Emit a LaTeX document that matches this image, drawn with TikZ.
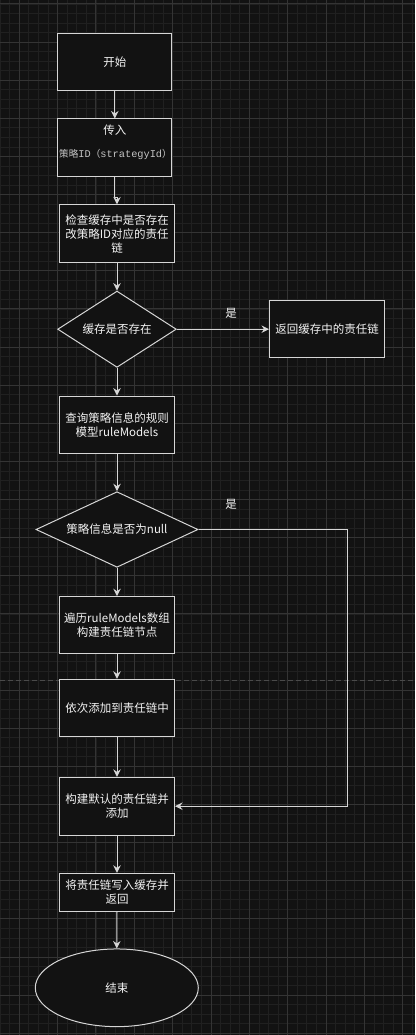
\documentclass[tikz,border=0pt]{standalone}
\usepackage{fontspec}
\setmainfont{Noto Sans CJK SC}
\newfontfamily\monofont{Liberation Mono}
\newfontfamily\cjk{Noto Sans CJK SC}
\usetikzlibrary{shapes.geometric,arrows.meta,calc}
\definecolor{bgc}{HTML}{121212}
\definecolor{minorc}{HTML}{202020}
\definecolor{majorc}{HTML}{343434}
\definecolor{linec}{HTML}{D6D6D6}
\definecolor{txtc}{HTML}{F4F4F4}
\definecolor{monoc}{HTML}{C4C4C4}
\definecolor{pagec}{HTML}{4A4A4A}
\begin{document}
\begin{tikzpicture}[x=1pt,y=-1pt,
  basefont/.style={font=\fontsize{11.5}{13.8}\selectfont},
  box/.style={draw=linec, fill=bgc, line width=1pt, minimum width=115pt,
    minimum height=57.3pt, inner sep=0pt, text=txtc, align=center, basefont},
  decision/.style={diamond, draw=linec, fill=bgc, line width=1pt, inner sep=0pt,
    text=txtc, align=center, basefont},
  terminal/.style={ellipse, draw=linec, fill=bgc, line width=1pt, inner sep=0pt,
    minimum width=163pt, minimum height=77.7pt, text=txtc, basefont},
  txt/.style={text=txtc, inner sep=0pt, basefont},
  conn/.style={draw=linec, line width=1pt, -{Stealth[length=7.5pt,width=7.5pt,inset=2.5pt]}},
  plain/.style={draw=linec, line width=1pt}
]
\useasboundingbox (0,0) rectangle (415,1035);
% background and grid
\fill[bgc] (0,0) rectangle (415,1035);
\foreach \i in {0,...,43} \draw[minorc, line width=0.8pt] ({0.13+9.585*\i},0) -- ++(0,1035);
\foreach \k in {0,...,108} \draw[minorc, line width=0.8pt] (0,{4+9.53*\k}) -- ++(415,0);
\foreach \i in {0,...,10} \draw[majorc, line width=1pt] ({19.3+38.34*\i},0) -- ++(0,1035);
\foreach \j in {0,...,27} \draw[majorc, line width=1pt] (0,{4+38.12*\j}) -- ++(415,0);
\draw[pagec, line width=1pt, dash pattern=on 4.5pt off 3.5pt] (0,680) -- (415,680);

% nodes
\node[box, minimum width=114.3pt] (start) at (114.8,61.8) {开始};
\node[box, minimum width=114.3pt] (input) at (114.8,147.6) {};
\node[txt] (intitle) at (114.8,130) {传入};
\node[inner sep=0pt, text=monoc] (inmono) at (115.5,154.7)
  {{\cjk\fontsize{9.6}{11}\selectfont 策略}{\monofont\fontsize{10.3}{11}\selectfont ID}{\cjk\fontsize{9.6}{11}\selectfont （}{\monofont\fontsize{10.3}{11}\selectfont strategyId}{\cjk\fontsize{9.6}{11}\selectfont ）}};
\node[box, minimum height=57.7pt] (check) at (117,233.8) {检查缓存中是否存在\\改策略ID对应的责任\\链};
\node[decision, minimum width=118.7pt, minimum height=76.3pt, aspect=1.556] (d1) at (117,329.2) {缓存是否存在};
\node[box, minimum height=57pt] (ret) at (327,329.2) {返回缓存中的责任链};
\node[box] (query) at (117,424.7) {查询策略信息的规则\\模型ruleModels};
\node[decision, minimum width=162pt, minimum height=75.6pt, aspect=2.14] (d2) at (117,529.5) {策略信息是否为null};
\node[box, minimum height=57pt] (trav) at (117,625.2) {遍历ruleModels数组\\构建责任链节点};
\node[box, minimum height=57.4pt] (seq) at (117,708) {依次添加到责任链中};
\node[box, minimum height=57.7pt] (dflt) at (117,806.2) {构建默认的责任链并\\添加};
\node[box, minimum height=38pt] (write) at (117,892.3) {将责任链写入缓存并\\返回};
\node[terminal] (finish) at (116.8,987.8) {结束};

\node[txt] (yes1) at (231,313.3) {是};
\node[txt] (yes2) at (231,504) {是};

\coordinate (b1) at (347.3,529.5);
\coordinate (b2) at (347.3,806.2);

% connectors
\draw[conn] (start.south) -- (input.north);
\draw[conn] (input.south) -- ++(0,21) -| (check.north);
\draw[conn] (check.south) -- (d1.north);
\draw[conn] (d1.east) -- (ret.west);
\draw[conn] (d1.south) -- (query.north);
\draw[conn] (query.south) -- (d2.north);
\draw[conn] (d2.south) -- (trav.north);
\draw[conn] (trav.south) -- (seq.north);
\draw[conn] (seq.south) -- (dflt.north);
\draw[conn] (d2.east) -- (b1) -- (b2) -- (dflt.east);
\draw[conn] (dflt.south) -- (write.north);
\draw[conn] (write.south) -- (finish.north);
\end{tikzpicture}
\end{document}
